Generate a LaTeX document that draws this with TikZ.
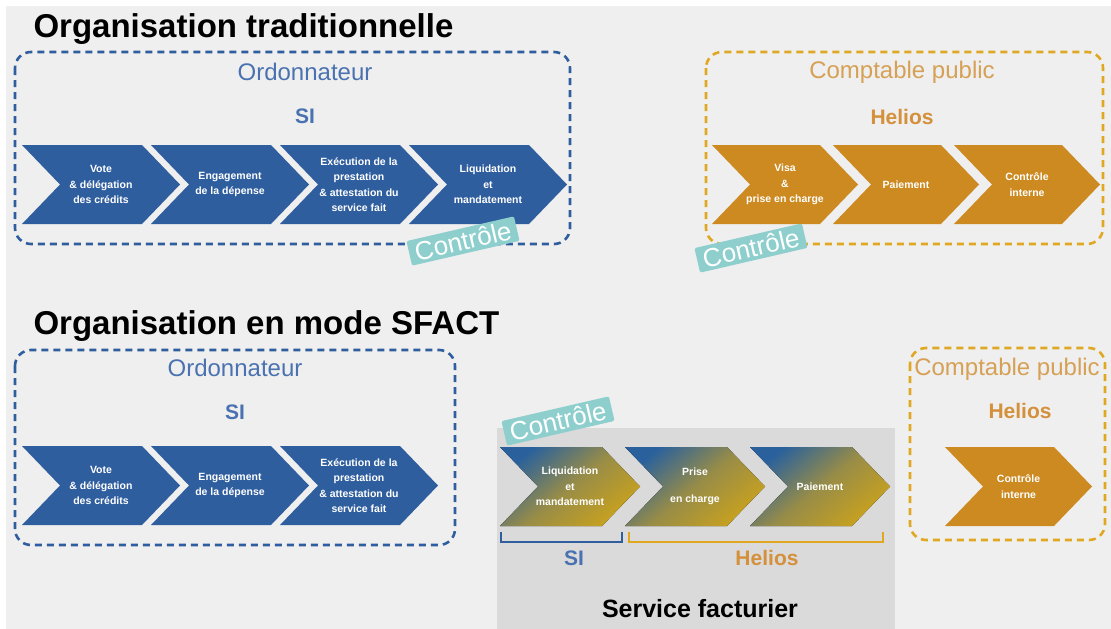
\documentclass[tikz,border=0pt]{standalone}
\usepackage{fontspec}
\setmainfont{Liberation Sans}
\usetikzlibrary{positioning}

\definecolor{fond}{HTML}{EFEFEF}
\definecolor{bleu}{HTML}{2F5E9F}
\definecolor{bleutxt}{HTML}{4A72B0}
\definecolor{or}{HTML}{CC8A20}
\definecolor{ortrait}{HTML}{E0A820}
\definecolor{ortxt}{HTML}{D6A055}
\definecolor{orgras}{HTML}{D4903A}
\definecolor{sarcelle}{HTML}{8ECFCE}
\definecolor{grisfact}{HTML}{DADADA}
\definecolor{olive}{HTML}{C9A21E}

% chevron: name, left x, top y, width, style, text
\newcommand{\chev}[6]{%
  \fill[#5] (#2,#3) -- ++(#4-38,0) -- ++(38,39.5) -- ++(-38,39.5)
    -- ++(-#4+38,0) -- ++(38,-39.5) -- cycle;
  \node[chevtext] (#1) at (#2+#4/2,#3+39.5) {#6};
}

\begin{document}
\begin{tikzpicture}[x=1pt,y=-1pt,
    chevtext/.style={text=white, align=center, font=\fontsize{10.5}{15.5}\selectfont\bfseries},
    titre/.style={anchor=base west, font=\fontsize{33}{36}\selectfont\bfseries},
    acteur/.style={font=\fontsize{24}{26}\selectfont},
    appli/.style={font=\fontsize{21}{23}\selectfont\bfseries},
    cadre/.style={rounded corners=16pt, line width=2.6pt, dash pattern=on 7pt off 5pt},
    controle/.style={fill=sarcelle, text=white, rotate=13, rounded corners=2pt,
      inner xsep=6pt, inner ysep=3pt, font=\fontsize{26}{28}\selectfont},
    accolade/.style={line width=2.6pt},
    degrade/.style={top color=bleu!90!teal, bottom color=olive, middle color=olive!68!bleu, shading angle=40}]

% fond
\fill[white] (0,0) rectangle (1111,629);
\fill[fond] (6,6) rectangle (1111,629);

%% organisation traditionnelle
\node[titre] (titre1) at (30,37) {Organisation traditionnelle};

\draw[cadre, draw=bleu] (15,52) rectangle (570,244);
\node[acteur, text=bleutxt] (ordo1) at (305,72) {Ordonnateur};
\node[appli, text=bleutxt] (si1) at (305,116) {SI};
\chev{vote1}{22}{145}{158}{bleu}{Vote\\\& délégation\\des crédits}
\chev{engag1}{151}{145}{158}{bleu}{Engagement\\de la dépense}
\chev{exec1}{280}{145}{158}{bleu}{Exécution de la\\prestation\\\& attestation du\\service fait}
\chev{liqui1}{409}{145}{158}{bleu}{Liquidation\\et\\mandatement}

\draw[cadre, draw=ortrait] (706,52) rectangle (1103,244);
\node[acteur, text=ortxt] (compta1) at (902,72) {Comptable public};
\node[appli, text=orgras] (helios1) at (902,117) {Helios};
\chev{visa1}{712}{145}{146}{or}{Visa\\\&\\prise en charge}
\chev{paie1}{833}{145}{146}{or}{Paiement}
\chev{ctrl1}{954}{145}{146}{or}{Contrôle\\interne}

\node[controle] (tagA) at (463,241) {Contrôle};
\node[controle] (tagB) at (751,248) {Contrôle};

%% organisation en mode SFACT
\node[titre] (titre2) at (30,334) {Organisation en mode SFACT};

\draw[cadre, draw=bleu] (15,350) rectangle (455,545);
\node[acteur, text=bleutxt] (ordo2) at (235,368) {Ordonnateur};
\node[appli, text=bleutxt] (si2) at (235,412) {SI};
\chev{vote2}{22}{446}{158}{bleu}{Vote\\\& délégation\\des crédits}
\chev{engag2}{151}{446}{158}{bleu}{Engagement\\de la dépense}
\chev{exec2}{280}{446}{158}{bleu}{Exécution de la\\prestation\\\& attestation du\\service fait}

% service facturier
\fill[grisfact] (497,428) rectangle (895,629);
\chev{liqui2}{500}{447}{140}{degrade}{Liquidation\\et\\mandatement}
\chev{prise2}{625}{447}{140}{degrade}{Prise\\[12pt]en charge}
\chev{paie2}{750}{447}{140}{degrade}{Paiement}
\draw[accolade, draw=bleu] (501,532) -- (501,542) -- (622,542) -- (622,532);
\draw[accolade, draw=ortrait] (629,532) -- (629,542) -- (883,542) -- (883,532);
\node[appli, text=bleutxt] (si3) at (574,558) {SI};
\node[appli, text=orgras] (helios3) at (767,558) {Helios};
\node[font=\fontsize{25}{27}\selectfont\bfseries] (sfact) at (700,609) {Service facturier};
\node[controle] (tagC) at (558,421) {Contrôle};

\draw[cadre, draw=ortrait] (910,348) rectangle (1105,540);
\node[acteur, text=ortxt] (compta2) at (1007,369) {Comptable public};
\node[appli, text=orgras] (helios2) at (1020,411) {Helios};
\chev{ctrl2}{945}{447}{147}{or}{Contrôle\\interne}

\end{tikzpicture}
\end{document}
